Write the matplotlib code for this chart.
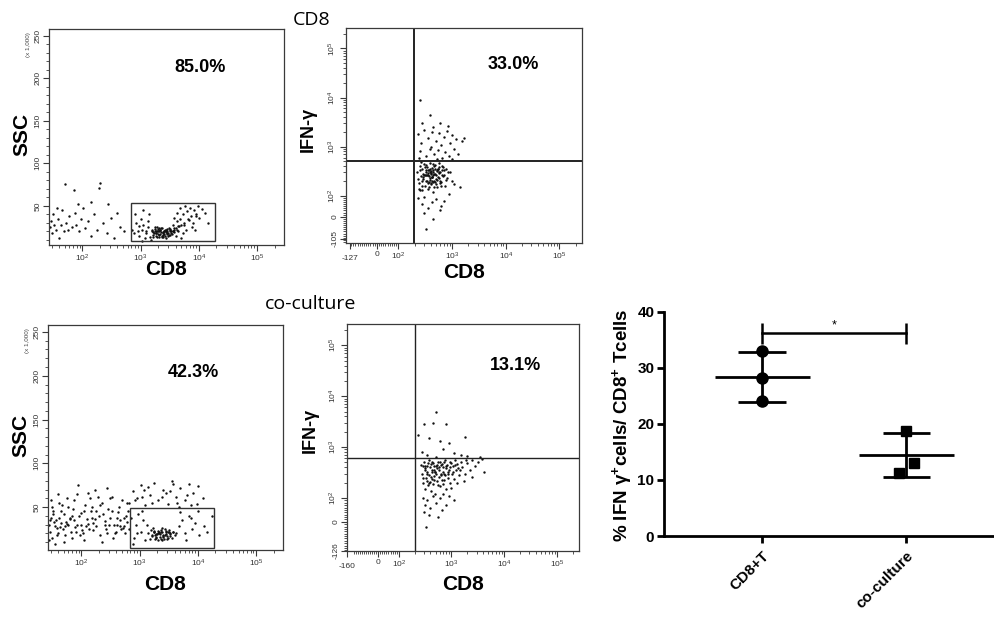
import numpy as np
import matplotlib
matplotlib.use("Agg")
import matplotlib.pyplot as plt
from matplotlib.patches import Rectangle
from matplotlib.ticker import FixedLocator, LogLocator, NullFormatter

plt.rcParams["font.family"] = ["Liberation Sans", "DejaVu Sans"]
plt.rcParams["mathtext.fontset"] = "custom"
plt.rcParams["mathtext.rm"] = "Liberation Sans"
plt.rcParams["mathtext.bf"] = "Liberation Sans:bold"
plt.rcParams["mathtext.it"] = "Liberation Sans:italic"

# ---- flow panel 1: CD8 alone, SSC vs CD8 (x = log10 CD8, y = SSC x1000)
p1_cd8 = [1.45, 1.47, 1.48, 1.50, 1.52, 1.55, 1.58, 1.60, 1.63, 1.66, 1.70, 1.72, 1.75, 1.78,
          1.82, 1.86, 1.88, 1.90, 1.95, 1.98, 2.02, 2.05, 2.10, 2.15, 2.20, 2.25, 2.28, 2.30,
          2.35, 2.42, 2.50, 2.55, 2.60, 2.65, 2.72, 2.45, 2.15, 1.92, 1.68, 1.56,
          3.20, 3.22, 3.25, 3.27, 3.30, 3.32, 3.35, 3.37, 3.40, 3.42, 3.45, 3.47, 3.50, 3.52,
          3.55, 3.24, 3.28, 3.33, 3.38, 3.43, 3.48, 3.53, 3.26, 3.31, 3.36, 3.41, 3.46, 3.51,
          3.29, 3.39, 3.21, 3.34, 3.44, 3.49, 3.30, 3.40, 3.36, 3.25, 3.45, 3.32,
          3.19, 3.23, 3.27, 3.31, 3.35, 3.39, 3.43, 3.47, 3.51, 3.55, 3.58, 3.21, 3.26, 3.30,
          3.34, 3.38, 3.42, 3.46, 3.50, 3.54, 3.62, 3.66, 3.57, 3.28, 3.44,
          3.55, 3.60, 3.62, 3.65, 3.68, 3.70, 3.72, 3.75, 3.78, 3.80, 3.82, 3.85, 3.87, 3.90,
          3.92, 3.95, 3.98, 4.00, 4.05, 4.10, 3.58, 3.63, 3.73, 3.88, 3.67, 3.77, 3.93, 4.15,
          3.60, 3.70, 3.64, 3.83, 3.57, 3.74, 3.96,
          2.88, 2.92, 2.95, 2.98, 3.00, 3.03, 3.05, 3.08, 3.10, 3.12, 3.15, 3.18, 2.90, 3.05,
          3.13, 3.17, 2.97, 3.02, 2.85, 3.10]
p1_ssc = [25, 32, 18, 40, 28, 22, 35, 12, 27, 45, 76, 30, 22, 38,
          25, 69, 42, 28, 20, 35, 48, 24, 32, 15, 40, 22, 71, 77,
          30, 18, 36, 12, 42, 25, 20, 52, 55, 52, 20, 48,
          20, 16, 23, 18, 21, 14, 19, 24, 17, 22, 20, 15, 23, 18,
          21, 25, 13, 22, 16, 19, 24, 20, 18, 24, 15, 21, 17, 22,
          20, 18, 19, 17, 21, 16, 23, 20, 14, 21, 18, 16,
          22, 18, 15, 20, 24, 14, 22, 18, 16, 20, 24, 13, 20, 17,
          22, 19, 15, 23, 21, 17, 22, 26, 19, 25, 12,
          28, 24, 32, 20, 35, 27, 40, 30, 22, 44, 35, 48, 38, 30,
          45, 40, 50, 36, 46, 42, 36, 42, 18, 25, 47, 50, 22, 30,
          15, 12, 26, 33, 22, 28, 38,
          18, 30, 20, 15, 35, 22, 28, 12, 18, 25, 40, 10, 40, 45,
          32, 14, 26, 9, 22, 20]

# ---- flow panel 2: CD8 alone, IFN-y vs CD8 (raw values)
p2_cd8 = [230, 260, 300, 350, 400, 450, 500, 560, 620, 700, 800, 900, 1000, 1200, 1500, 1700,
          250, 320, 380, 460, 540, 650, 750, 880, 1100, 1300, 280, 600, 850, 430, 240, 520,
          1000, 380, 250,
          220, 240, 250, 260, 270, 280, 290, 300, 310, 320, 330, 340, 350, 360, 370, 380,
          390, 400, 410, 420, 430, 440, 450, 460, 480, 500, 520, 540, 560, 580, 600, 630,
          660, 700, 740, 780, 820, 870, 920, 980, 1100, 1400, 230, 270, 300, 350, 420, 500,
          620, 700, 300, 450, 600, 330, 250, 280, 330, 370, 410, 450, 470, 530, 590, 640,
          690, 760, 850, 260, 310, 350, 395, 440, 490, 570, 720, 290, 340, 360, 400, 430,
          470, 510, 550, 320, 380, 420,
          235, 255, 275, 295, 315, 335, 355, 375, 395, 415, 435, 455, 475, 495, 515, 545,
          575, 605, 645, 685, 245, 285, 325, 365, 405, 445, 485, 525, 565, 615]
p2_ifn = [1800, 1200, 2200, 1500, 1000, 2500, 1300, 1900, 1100, 1600, 2100, 1200, 1700, 1400,
          1300, 1500, 800, 650, 900, 700, 850, 600, 780, 650, 900, 700, 3100, 3000, 2600, 2000,
          600, 560, 560, 4500, 9000,
          300, 180, 400, 250, 130, 350, 220, 450, 160, 300, 200, 380, 260, 140, 330, 210,
          470, 280, 170, 360, 240, 120, 310, 200, 420, 270, 150, 350, 230, 460, 300, 190,
          400, 260, 160, 350, 230, 110, 300, 200, 170, 150, 90, 60, 95, 40, 70, 85,
          50, 75, 20, -10, 30, -60, 130, 200, 420, 190, 290, 450, 150, 320, 180, 260,
          380, 210, 300, 480, 270, 330, 230, 330, 190, 390, 330, 240, 260, 180, 320, 240,
          280, 220, 350, 270, 300, 200,
          220, 330, 160, 260, 380, 200, 290, 150, 350, 240, 190, 410, 280, 170, 330, 240,
          300, 200, 330, 250, 140, 280, 330, 250, 180, 260, 350, 210, 290, 160]

# ---- flow panel 3: co-culture, SSC vs CD8 (x = log10 CD8, y = SSC x1000)
p3_cd8 = [1.44, 1.46, 1.48, 1.50, 1.52, 1.55, 1.57, 1.60, 1.62, 1.65, 1.68, 1.70, 1.72, 1.75,
          1.78, 1.80, 1.83, 1.86, 1.88, 1.90, 1.93, 1.96, 2.00, 2.03, 2.06, 2.10, 2.13, 2.16,
          2.20, 2.23, 2.26, 2.30, 2.33, 2.36, 2.40, 2.43, 2.46, 2.50, 2.53, 2.56, 2.60, 2.63,
          2.66, 2.70, 2.73, 2.76, 2.79,
          1.45, 1.50, 1.55, 1.62, 1.70, 1.78, 1.85, 1.95, 2.05, 2.15, 2.25, 2.35, 2.45, 2.55,
          2.65, 2.75, 1.58, 1.74, 1.92, 2.08, 2.28, 2.48, 2.68, 1.48, 1.66, 1.98, 2.18, 2.38,
          2.58, 2.78, 1.53, 1.64, 1.81, 1.99, 2.11, 2.21, 2.41, 2.61, 2.71, 1.47, 1.76, 2.01,
          1.51, 1.59, 1.67, 1.73, 1.84, 1.91, 2.04, 2.12, 2.24, 2.32, 2.44, 2.52, 2.62, 2.74,
          2.80, 1.61, 1.87, 2.19, 2.49, 2.67,
          3.15, 3.18, 3.20, 3.22, 3.25, 3.27, 3.30, 3.32, 3.35, 3.37, 3.40, 3.42, 3.45, 3.47,
          3.50, 3.52, 3.55, 3.58, 3.60, 3.63, 3.23, 3.28, 3.33, 3.38, 3.43, 3.48, 3.53, 3.26,
          3.36, 3.46, 3.31, 3.41, 3.51, 3.29, 3.39, 3.44,
          3.21, 3.25, 3.29, 3.33, 3.37, 3.41, 3.45, 3.49, 3.53, 3.57, 3.31, 3.39, 3.47, 3.24,
          3.35,
          2.82, 2.86, 2.90, 2.94, 2.98, 3.02, 3.06, 3.10, 2.88, 2.96, 3.04, 3.12, 3.68, 3.72,
          3.78, 3.84, 3.90, 3.95, 4.02, 4.10, 3.70, 3.80, 3.88, 4.00, 4.15, 4.25,
          2.82, 2.88, 2.95, 3.02, 3.10, 3.18, 3.25, 3.32, 3.40, 3.48, 3.55, 3.62, 3.70, 3.78,
          3.85, 3.92, 4.00, 4.08, 3.05, 3.45, 3.65, 3.88,
          2.92, 3.08, 3.22, 3.38, 3.52, 3.68, 3.82, 3.98, 3.15, 3.58]
p3_ssc = [30, 22, 38, 15, 45, 28, 35, 20, 55, 32, 25, 42, 18, 60,
          30, 38, 22, 48, 35, 27, 65, 40, 30, 20, 52, 36, 25, 45,
          32, 70, 28, 40, 18, 55, 34, 25, 48, 38, 62, 30, 22, 44,
          35, 58, 28, 40, 33,
          12, 50, 8, 38, 10, 50, 15, 75, 12, 60, 45, 10, 72, 15,
          50, 20, 26, 33, 30, 28, 62, 30, 25, 58, 45, 18, 38, 42,
          20, 55, 33, 27, 36, 43, 31, 24, 29, 37, 26, 35, 31, 24,
          42, 18, 52, 28, 40, 22, 45, 66, 36, 52, 20, 46, 30, 38,
          45, 65, 58, 50, 60, 28,
          20, 14, 24, 17, 21, 13, 19, 23, 16, 22, 18, 14, 21, 17,
          24, 19, 15, 22, 18, 20, 26, 16, 22, 12, 25, 15, 20, 18,
          14, 23, 20, 17, 21, 19, 22, 18,
          18, 22, 15, 20, 24, 16, 19, 22, 17, 21, 12, 26, 14, 23,
          19,
          25, 38, 15, 30, 42, 22, 35, 12, 8, 20, 46, 30, 28, 35,
          20, 40, 25, 32, 18, 28, 44, 12, 38, 45, 22, 40,
          55, 68, 60, 75, 52, 64, 78, 58, 70, 54, 80, 62, 72, 58,
          76, 66, 74, 60, 62, 66, 55, 52,
          58, 70, 55, 62, 68, 50, 64, 54, 73, 76]

# ---- flow panel 4: co-culture, IFN-y vs CD8 (raw values)
p4_cd8 = [520, 300, 450, 800, 230, 380, 600, 900, 1800, 700, 280, 1100, 1500, 2000, 350,
          3500, 500,
          270, 280, 290, 300, 310, 320, 330, 340, 350, 360, 370, 380, 390, 400, 410, 420,
          430, 440, 450, 460, 470, 480, 500, 520, 540, 560, 580, 600, 620, 640, 660, 680,
          700, 720, 750, 780, 800, 830, 860, 900, 940, 980, 1020, 1060, 1100, 1150, 1200, 1300,
          1400, 1500, 1600, 1800, 2000, 2200, 2500, 2800, 3200, 3800, 4200, 290, 320, 350, 400,
          450, 500, 600, 700, 800, 380, 300, 550, 330, 650, 900, 1100, 310, 360, 420, 470,
          530, 610, 690, 770, 850, 930, 1000, 1250, 1700, 2400, 290, 340, 410, 490, 570, 730,
          1350, 1900,
          285, 315, 345, 375, 405, 435, 465, 495, 525, 555, 585, 625, 675, 725, 790, 860,
          950, 1050, 1180, 1450]
p4_ifn = [5000, 2900, 3000, 2800, 1700, 1500, 1300, 1200, 1600, 900, 800, 750, 700, 680, 700,
          650, 650,
          450, 300, 200, 520, 380, 150, 250, 430, 320, 180, 560, 280, 210, 400, 140, 330,
          240, 480, 190, 360, 270, 120, 420, 300, 220, 500, 350, 170, 280, 440, 230, 330,
          190, 520, 280, 380, 150, 450, 250, 350, 200, 480, 300, 420, 240, 550, 350, 460,
          280, 520, 400, 300, 480, 350, 550, 420, 500, 580, 320, 100, 70, 90, 60,
          110, 80, 100, 120, 70, 30, 40, 20, -20, 50, 110, 90, 350, 480, 520, 420,
          380, 520, 400, 560, 330, 520, 160, 200, 220, 260, 420, 220, 260, 320, 260, 300,
          380, 560,
          250, 420, 300, 200, 470, 360, 230, 330, 450, 180, 400, 300, 470, 230, 420, 290,
          400, 330, 440, 350]

# gates: (log10 CD8 left, log10 CD8 right, SSC bottom, SSC top)
gate1 = (2.83, 4.27, 9, 53)
gate3 = (2.83, 4.27, 3, 49)
# quadrant thresholds: (CD8, IFN-y)
quad2 = (195, 515)
quad4 = (202, 620)
pcts = ["85.0%", "33.0%", "42.3%", "13.1%"]

# ---- summary dot plot
groups = ["CD8+T", "co-culture"]
cd8t_vals = [33.0, 28.3, 24.1]
coculture_vals = [18.8, 13.1, 11.3]
square_jitter = [0.0, 0.05, -0.05]

fig = plt.figure(figsize=(9.95, 6.17), dpi=100)

AX_COL = "#3a3a3a"
DOT_S = 3.0


def style_flow(ax):
    for sp in ax.spines.values():
        sp.set_color(AX_COL)
        sp.set_linewidth(0.9)
    ax.tick_params(which="both", direction="out", color=AX_COL, labelcolor="#333333",
                   labelsize=6, pad=1.5)
    ax.tick_params(which="major", length=4, width=0.8)
    ax.tick_params(which="minor", length=2.5, width=0.6)


def ssc_panel(rect, cd8_log, ssc, gate, pct, pct_xy, ylim, lab_y):
    ax = fig.add_axes(rect)
    ax.scatter(10 ** np.asarray(cd8_log), ssc, s=DOT_S, c="#111111", linewidths=0)
    ax.set_xscale("log")
    ax.set_xlim(10 ** 1.43, 10 ** 5.46)
    ax.set_ylim(*ylim)
    ax.set_xticks([1e2, 1e3, 1e4, 1e5])
    ax.set_xticklabels([r"$10^2$", r"$10^3$", r"$10^4$", r"$10^5$"])
    ax.xaxis.set_minor_locator(LogLocator(base=10, subs=np.arange(2, 10), numticks=20))
    ax.xaxis.set_minor_formatter(NullFormatter())
    ax.set_yticks([50, 100, 150, 200, 250])
    ax.set_yticklabels(["50", "100", "150", "200", "250"], rotation=90, va="center",
                       fontsize=5.5)
    ax.yaxis.set_minor_locator(FixedLocator(np.arange(10, 261, 10)))
    style_flow(ax)
    g = gate
    ax.add_patch(Rectangle((10 ** g[0], g[2]), 10 ** g[1] - 10 ** g[0], g[3] - g[2],
                           fill=False, ec="#333333", lw=1.0))
    ax.text(pct_xy[0], pct_xy[1], pct, transform=ax.transAxes, fontsize=13,
            fontweight="bold", ha="center", va="center")
    ax.text(-0.115, 0.51, "SSC", transform=ax.transAxes, rotation=90, fontsize=15,
            fontweight="bold", ha="center", va="center")
    ax.text(-0.085, 0.93, "(x 1,000)", transform=ax.transAxes, rotation=90, fontsize=4.5,
            color="#444444", ha="center", va="center")
    ax.text(0.5, lab_y, "CD8", transform=ax.transAxes, fontsize=15, fontweight="bold",
            ha="center", va="top")
    return ax


def ifn_panel(rect, cd8, ifn, quad, pct, pct_xy, xneg, yneg, xls, yls, lab_y, lw_q):
    ax = fig.add_axes(rect)
    ax.set_xscale("symlog", linthresh=100, linscale=xls)
    ax.set_yscale("symlog", linthresh=100, linscale=yls)
    ax.scatter(cd8, ifn, s=DOT_S, c="#111111", linewidths=0)
    ax.set_xlim(-150, 262144)
    ax.set_ylim(-128, 262144)
    ax.set_xticks([-xneg, 0, 1e2, 1e3, 1e4, 1e5])
    ax.set_xticklabels([str(-xneg), "0", r"$10^2$", r"$10^3$", r"$10^4$", r"$10^5$"])
    ax.set_yticks([-yneg, 0, 1e2, 1e3, 1e4, 1e5])
    ax.set_yticklabels([str(-yneg), "0", r"$10^2$", r"$10^3$", r"$10^4$", r"$10^5$"],
                       rotation=90, va="center")
    minors = list(range(-120, 0, 10)) + list(range(10, 100, 10))
    for dec in (100, 1000, 10000):
        minors += [k * dec for k in range(2, 10)]
    minors += [200000]
    ax.xaxis.set_minor_locator(FixedLocator(minors))
    ax.yaxis.set_minor_locator(FixedLocator(minors))
    style_flow(ax)
    ax.get_xticklabels()[0].set_y(-0.02)
    ax.axvline(quad[0], color="#222222", lw=lw_q)
    ax.axhline(quad[1], color="#222222", lw=lw_q)
    ax.text(pct_xy[0], pct_xy[1], pct, transform=ax.transAxes, fontsize=13,
            fontweight="bold", ha="center", va="center")
    ax.text(-0.16, 0.53, "IFN-γ", transform=ax.transAxes, rotation=90, fontsize=13,
            fontweight="bold", ha="center", va="center")
    ax.text(0.5, lab_y, "CD8", transform=ax.transAxes, fontsize=15, fontweight="bold",
            ha="center", va="top")
    return ax


ssc_panel([0.0492, 0.6029, 0.2362, 0.3501], p1_cd8, p1_ssc, gate1, pcts[0], (0.643, 0.82),
          (4, 258), -0.07)
ifn_panel([0.3477, 0.6062, 0.2372, 0.3485], p2_cd8, p2_ifn, quad2, pcts[1], (0.708, 0.828),
          127, 105, 0.36, 0.385, -0.095, 1.4)
ssc_panel([0.0482, 0.1086, 0.2362, 0.3647], p3_cd8, p3_ssc, gate3, pcts[2], (0.617, 0.791),
          (1, 258), -0.11)
ifn_panel([0.3487, 0.1070, 0.2332, 0.3679], p4_cd8, p4_ifn, quad4, pcts[3], (0.728, 0.819),
          160, 126, 0.35, 0.42, -0.106, 1.0)

fig.text(312 / 995, 1 - 20 / 617, "CD8", fontsize=14, family=["Open Sans", "DejaVu Sans"],
         ha="center", va="center")
fig.text(311 / 995, 1 - 304 / 617, "co-culture", fontsize=14,
         family=["Open Sans", "DejaVu Sans"], ha="center", va="center")

# ---- dot plot with mean +/- SD
ax5 = fig.add_axes([664 / 995, 1 - 536 / 617, 329 / 995, 224 / 617])
series = [cd8t_vals, coculture_vals]
for i, vals in enumerate(series):
    vals = np.asarray(vals)
    m, sd = vals.mean(), vals.std(ddof=1)
    ax5.hlines(m, i - 0.33, i + 0.33, color="black", lw=2)
    ax5.hlines([m - sd, m + sd], i - 0.165, i + 0.165, color="black", lw=2)
    ax5.vlines(i, m - sd, m + sd, color="black", lw=2)
    if i == 0:
        ax5.plot(np.full(len(vals), i), vals, "o", color="black", ms=8, zorder=3)
    else:
        ax5.plot(i + np.asarray(square_jitter), vals, "s", color="black", ms=7.5, zorder=3)

ax5.plot([0, 1], [36.2, 36.2], color="black", lw=1.8)
ax5.vlines([0, 1], 34.3, 38.0, color="black", lw=1.8)
ax5.text(0.5, 37.6, "*", ha="center", va="center", fontsize=9)

ax5.set_xlim(-0.68, 1.6)
ax5.set_ylim(0, 40)
ax5.set_yticks([0, 10, 20, 30, 40])
ax5.set_xticks([0, 1])
ax5.set_xticklabels(groups, rotation=45, ha="right", rotation_mode="anchor",
                    fontweight="bold", fontsize=11)
for lab in ax5.get_yticklabels():
    lab.set_fontweight("bold")
ax5.tick_params(axis="y", labelsize=11, width=2, length=5, pad=2)
ax5.tick_params(axis="x", width=2, length=5, pad=4)
ax5.spines["top"].set_visible(False)
ax5.spines["right"].set_visible(False)
ax5.spines["left"].set_linewidth(2)
ax5.spines["bottom"].set_linewidth(2)
ax5.set_ylabel(r"% IFN γ$^{\mathbf{+}}$cells/ CD8$^{\mathbf{+}}$ Tcells", fontsize=13.5,
               fontweight="bold")
ax5.yaxis.set_label_coords(-0.09, 0.496)

fig.savefig("out.png", dpi=100)
